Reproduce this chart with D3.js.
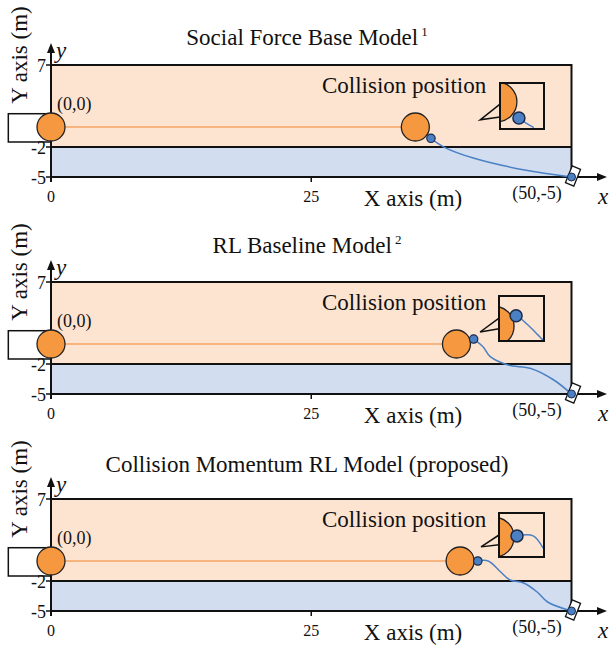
<!DOCTYPE html>
<html>
<head>
<meta charset="utf-8">
<script src="https://cdn.jsdelivr.net/npm/d3@7"></script>
<style>
  body { margin: 0; background: #fff; }
  text { font-family: "Liberation Serif", "Times New Roman", serif; fill: #111; }
</style>
</head>
<body>
<svg id="chart" width="611" height="645"></svg>
<script>
// ---- data ----
const titles = ["Social Force Base Model", "RL Baseline Model", "Collision Momentum RL Model (proposed)"];
const titleNotes = ["1", "2", ""];
const xTicks = [0, 25];
const yTicks = [7, -2, -5];
const laneEdge = -2;
const startCar = [-4.1, -1.5, 0, 1.5];          // x0, y0, x1, y1 (m)
const collisionX = [35.0, 38.95, 39.3];         // pedestrian x at collision (m)
const vehiclePaths = [
  [[36.5, -1.13], [37.8, -2.03], [40.65, -3.13], [45.5, -4.3], [50, -5]],
  [[40.6, 0.56], [41.5, -0.27], [42.2, -1.27], [43.9, -2.1], [46.1, -2.45], [48.3, -3.6], [50, -5]],
  [[41.0, 0], [42.0, 0], [43.2, -1.1], [44.1, -1.9], [45.4, -2.2], [46.7, -3.1], [47.7, -4.1], [50, -5]]
];
const endPoint = [50, -5];
// zoomed view, in box units (0..1)
const insetPed = [[-0.07, 0.41], [-0.11, 0.67], [-0.11, 0.55]];
const insetVeh = [[0.43, 0.76], [0.38, 0.44], [0.4, 0.52]];
const insetTrails = [
  [[0.43, 0.76], [0.6, 0.88], [0.77, 0.97]],
  [[0.38, 0.44], [0.47, 0.49], [0.69, 0.69], [0.87, 0.87], [0.98, 0.98]],
  [[0.4, 0.52], [0.76, 0.52], [0.98, 0.8]]
];

// ---- layout ----
const panelTop = [65, 282, 499];
const titleY = [45, 253, 472];
const insetBox = [
  { x: 500, y: 18, w: 44, h: 46, tip: [-0.45, 0.8], base: [0.46, 0.74] },
  { x: 499, y: 14, w: 45, h: 45, tip: [-0.42, 0.8], base: [0.49, 0.73] },
  { x: 499, y: 14, w: 45, h: 44, tip: [-0.4, 0.77], base: [0.5, 0.72] }
];
const peach = "#fde4d1", lane = "#d2deef", orange = "#f5983f", blue = "#4b80c4";

const svg = d3.select("#chart");
const x = d3.scaleLinear().domain([0, 50]).range([51, 571.5]);

titles.forEach((title, i) => {
  const top = panelTop[i];
  const y = d3.scaleLinear().domain([-5, -2, 0, 7]).range([top + 112, top + 82, top + 62, top]);
  const g = svg.append("g");

  // title
  const t = g.append("text").attr("x", 307).attr("y", titleY[i])
    .attr("text-anchor", "middle").style("font-size", "23px").text(title);
  if (titleNotes[i]) {
    t.append("tspan").attr("dx", 3).attr("dy", -9).style("font-size", "13px").text(titleNotes[i]);
  }

  // road areas
  g.append("rect").attr("x", x(0)).attr("y", y(7))
    .attr("width", x(50) - x(0)).attr("height", y(laneEdge) - y(7))
    .attr("fill", peach);
  g.append("rect").attr("x", x(0)).attr("y", y(laneEdge))
    .attr("width", x(50) - x(0)).attr("height", y(-5) - y(laneEdge))
    .attr("fill", lane);
  g.append("rect").attr("x", x(0)).attr("y", y(7))
    .attr("width", x(50) - x(0)).attr("height", y(-5) - y(7))
    .attr("fill", "none").attr("stroke", "#111").attr("stroke-width", 2);
  g.append("line").attr("x1", x(0)).attr("x2", x(50))
    .attr("y1", y(laneEdge)).attr("y2", y(laneEdge))
    .attr("stroke", "#111").attr("stroke-width", 2);

  // start car
  g.append("rect").attr("x", x(startCar[0])).attr("y", y(startCar[3]))
    .attr("width", x(startCar[2]) - x(startCar[0])).attr("height", y(startCar[1]) - y(startCar[3]))
    .attr("fill", "#fff").attr("stroke", "#111").attr("stroke-width", 1.5);

  // axes
  const y0 = y(-5);
  g.append("line").attr("x1", x(0)).attr("x2", 599).attr("y1", y0).attr("y2", y0)
    .attr("stroke", "#111").attr("stroke-width", 2);
  g.append("path").attr("d", `M607,${y0}L597,${y0 - 4}L597,${y0 + 4}Z`).attr("fill", "#111");
  g.append("line").attr("x1", x(0)).attr("x2", x(0)).attr("y1", y0 + 5).attr("y2", top - 14)
    .attr("stroke", "#111").attr("stroke-width", 2);
  g.append("path").attr("d", `M${x(0)},${top - 22}L${x(0) - 4},${top - 12}L${x(0) + 4},${top - 12}Z`).attr("fill", "#111");

  g.selectAll(".xt").data(xTicks).join("line")
    .attr("x1", d => x(d)).attr("x2", d => x(d)).attr("y1", y0).attr("y2", y0 + 5)
    .attr("stroke", "#111").attr("stroke-width", 1.5);
  g.selectAll(".xl").data(xTicks).join("text")
    .attr("x", d => x(d)).attr("y", y0 + 25).attr("text-anchor", "middle")
    .style("font-size", "16px").text(d => d);
  g.selectAll(".yt").data(yTicks).join("line")
    .attr("x1", x(0) - 5).attr("x2", x(0)).attr("y1", d => y(d)).attr("y2", d => y(d))
    .attr("stroke", "#111").attr("stroke-width", 1.5);
  g.selectAll(".yl").data(yTicks).join("text")
    .attr("x", x(0) - 5).attr("y", d => y(d) + 7).attr("text-anchor", "end")
    .style("font-size", "18px").text(d => d);

  g.append("text").attr("x", 603).attr("y", y0 + 27).attr("text-anchor", "middle")
    .style("font-size", "23px").style("font-style", "italic").text("x");
  g.append("text").attr("x", x(0) + 5).attr("y", top - 7)
    .style("font-size", "23px").style("font-style", "italic").text("y");
  g.append("text").attr("x", 413).attr("y", y0 + 29).attr("text-anchor", "middle")
    .style("font-size", "23px").text("X axis (m)");
  g.append("text").attr("transform", `translate(27,${top - 10}) rotate(-90)`)
    .attr("text-anchor", "middle").style("font-size", "23px").text("Y axis (m)");
  g.append("text").attr("x", x(0) + 6).attr("y", y(0) - 17)
    .style("font-size", "18px").text("(0,0)");
  g.append("text").attr("x", 537).attr("y", y0 + 22).attr("text-anchor", "middle")
    .style("font-size", "18px").text("(50,-5)");
  g.append("text").attr("x", 322).attr("y", top + 28)
    .style("font-size", "23px").text("Collision position");

  // pedestrian walk
  g.append("line").attr("x1", x(0)).attr("x2", x(collisionX[i]))
    .attr("y1", y(0)).attr("y2", y(0))
    .attr("stroke", "#f6a463").attr("stroke-width", 1.6);

  // vehicle trajectory
  const line = d3.line().x(d => x(d[0])).y(d => y(d[1])).curve(d3.curveCatmullRom);
  g.append("path").attr("d", line(vehiclePaths[i]))
    .attr("fill", "none").attr("stroke", blue).attr("stroke-width", 1.5);

  // end car
  g.append("rect").attr("x", -4.5).attr("y", -9).attr("width", 9).attr("height", 18)
    .attr("transform", `translate(${x(endPoint[0]) + 1.5},${y(endPoint[1]) - 1}) rotate(22)`)
    .attr("fill", "#fff").attr("stroke", "#111").attr("stroke-width", 1.3);
  g.append("circle").attr("cx", x(endPoint[0])).attr("cy", y(endPoint[1])).attr("r", 4)
    .attr("fill", blue).attr("stroke", "#1b2a4a").attr("stroke-width", 1);

  // pedestrians and vehicle at collision
  g.selectAll(".ped").data([0, collisionX[i]]).join("circle")
    .attr("cx", d => x(d)).attr("cy", y(0)).attr("r", 14)
    .attr("fill", orange).attr("stroke", "#222").attr("stroke-width", 1.3);
  g.append("circle").attr("cx", x(vehiclePaths[i][0][0])).attr("cy", y(vehiclePaths[i][0][1]))
    .attr("r", 4.2).attr("fill", blue).attr("stroke", "#1b2a4a").attr("stroke-width", 1.2);

  // zoomed inset
  const b = insetBox[i];
  const bx = d3.scaleLinear().domain([0, 1]).range([b.x, b.x + b.w]);
  const by = d3.scaleLinear().domain([0, 1]).range([top + b.y, top + b.y + b.h]);
  g.append("path")
    .attr("d", `M${bx(0)},${by(b.base[0])}L${bx(b.tip[0])},${by(b.tip[1])}L${bx(0)},${by(b.base[1])}`)
    .attr("fill", peach).attr("stroke", "#111").attr("stroke-width", 1.5);
  g.append("rect").attr("x", bx(0)).attr("y", by(0)).attr("width", b.w).attr("height", b.h)
    .attr("fill", peach);
  const clipId = "clip" + i;
  g.append("clipPath").attr("id", clipId).append("rect")
    .attr("x", bx(0)).attr("y", by(0)).attr("width", b.w).attr("height", b.h);
  const ig = g.append("g").attr("clip-path", `url(#${clipId})`);
  ig.append("circle").attr("cx", bx(insetPed[i][0])).attr("cy", by(insetPed[i][1])).attr("r", 20)
    .attr("fill", orange).attr("stroke", "#222").attr("stroke-width", 1.3);
  const iline = d3.line().x(d => bx(d[0])).y(d => by(d[1])).curve(d3.curveCatmullRom);
  ig.append("path").attr("d", iline(insetTrails[i]))
    .attr("fill", "none").attr("stroke", blue).attr("stroke-width", 1.5);
  ig.append("circle").attr("cx", bx(insetVeh[i][0])).attr("cy", by(insetVeh[i][1])).attr("r", 6)
    .attr("fill", blue).attr("stroke", "#1b2a4a").attr("stroke-width", 1.5);
  g.append("rect").attr("x", bx(0)).attr("y", by(0)).attr("width", b.w).attr("height", b.h)
    .attr("fill", "none").attr("stroke", "#111").attr("stroke-width", 2);
});
</script>
</body>
</html>
